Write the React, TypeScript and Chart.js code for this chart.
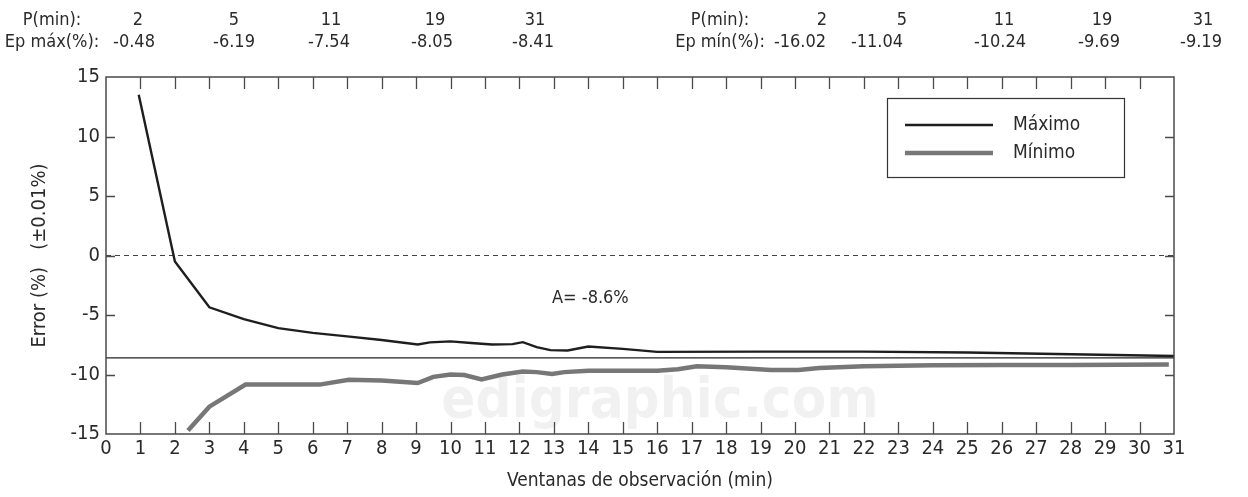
import React, { useEffect, useRef } from 'react';
import { Chart, registerables } from 'chart.js';

Chart.register(...registerables);

const FONT = '"DejaVu Sans Condensed", "Liberation Sans", sans-serif';
const TEXT = '#2a2a2a';

// ---- data ----
const maxX = [0.95, 2.0, 3.0, 4.0, 5.0, 6.0, 7.0, 8.0, 9.05, 9.4, 10.0, 10.6, 11.2, 11.8, 12.1, 12.5, 12.9, 13.4, 14.0, 15.0, 16.0, 19.0, 22.0, 25.0, 28.0, 31.0];
const maxY = [13.5, -0.5, -4.35, -5.35, -6.1, -6.5, -6.8, -7.1, -7.48, -7.3, -7.22, -7.35, -7.48, -7.45, -7.28, -7.7, -7.95, -7.98, -7.65, -7.85, -8.1, -8.08, -8.08, -8.15, -8.3, -8.45];

const minX = [2.38, 3.0, 4.05, 5.0, 6.2, 7.05, 8.0, 9.05, 9.5, 10.0, 10.4, 10.9, 11.5, 12.1, 12.5, 12.95, 13.3, 14.0, 15.0, 16.0, 16.6, 17.15, 18.0, 19.3, 20.1, 20.7, 22.0, 24.0, 26.0, 28.0, 30.85];
const minY = [-14.7, -12.7, -10.85, -10.85, -10.85, -10.45, -10.5, -10.72, -10.2, -10.0, -10.05, -10.42, -10.0, -9.75, -9.8, -9.95, -9.8, -9.68, -9.68, -9.68, -9.55, -9.3, -9.4, -9.62, -9.62, -9.45, -9.3, -9.22, -9.2, -9.2, -9.15];

const aValue = -8.6;
const zeroValue = 0;
const xRange = [0, 31];
const yRange = [-15, 15];

const seriesNames = ['Máximo', 'Mínimo'];
const headerP = ['2', '5', '11', '19', '31'];
const headerEpMax = ['-0.48', '-6.19', '-7.54', '-8.05', '-8.41'];
const headerEpMin = ['-16.02', '-11.04', '-10.24', '-9.69', '-9.19'];
const annotationText = 'A= -8.6%';
const xTitle = 'Ventanas de observación (min)';
const yTitle = 'Error (%)   (±0.01%)';
const watermark = 'edigraphic.com';

// ---- layout constants (text placement) ----
const ROW1_Y = 20;
const ROW2_Y = 42;
const leftLabelX = 52;
const leftRow1X = [138, 234, 331, 435, 535];
const leftRow2X = [134, 234, 329, 432, 533];
const rightLabelX = 720;
const rightRow1X = [822, 902, 1004, 1102, 1203];
const rightRow2X = [800, 877, 1000, 1099, 1201];

const toPts = (xs: number[], ys: number[]) => xs.map((x, i) => ({ x, y: ys[i] }));

const framePlugin = {
  id: 'framePlugin',
  beforeDatasetsDraw(chart: any) {
    const { ctx } = chart;
    ctx.save();
    ctx.font = `bold 56px ${FONT}`;
    ctx.fillStyle = 'rgba(0,0,0,0.055)';
    ctx.textAlign = 'center';
    ctx.textBaseline = 'middle';
    ctx.fillText(watermark, 660, 402);
    ctx.restore();
  },
  afterDatasetsDraw(chart: any) {
    const { ctx, chartArea, scales } = chart;
    const { left, right, top, bottom } = chartArea;
    const x = scales.x;
    const y = scales.y;
    ctx.save();
    ctx.strokeStyle = '#4a4a4a';
    ctx.lineWidth = 1.5;
    ctx.strokeRect(left, top, right - left, bottom - top);
    ctx.beginPath();
    x.ticks.forEach((t: any) => {
      if (t.value <= x.min || t.value >= x.max) return;
      const px = Math.round(x.getPixelForValue(t.value)) + 0.5;
      ctx.moveTo(px, top);
      ctx.lineTo(px, top + 12);
      ctx.moveTo(px, bottom);
      ctx.lineTo(px, bottom - 12);
    });
    y.ticks.forEach((t: any) => {
      if (t.value <= y.min || t.value >= y.max) return;
      const py = Math.round(y.getPixelForValue(t.value)) + 0.5;
      ctx.moveTo(left, py);
      ctx.lineTo(left + 9, py);
      ctx.moveTo(right, py);
      ctx.lineTo(right - 9, py);
    });
    ctx.lineWidth = 1.3;
    ctx.stroke();

    // annotation text
    ctx.fillStyle = TEXT;
    ctx.font = `18px ${FONT}`;
    ctx.textAlign = 'left';
    ctx.textBaseline = 'middle';
    ctx.fillText(annotationText, 552, 298);

    // legend box
    const ds = chart.data.datasets;
    const bx = 887, by = 98, bw = 237, bh = 79;
    ctx.fillStyle = '#fff';
    ctx.fillRect(bx, by, bw, bh);
    ctx.strokeStyle = '#333';
    ctx.lineWidth = 1.2;
    ctx.strokeRect(bx + 0.5, by + 0.5, bw, bh);
    [0, 1].forEach((i) => {
      const ly = i === 0 ? 125 : 153;
      ctx.beginPath();
      ctx.strokeStyle = ds[i].borderColor;
      ctx.lineWidth = ds[i].borderWidth;
      ctx.moveTo(905, ly);
      ctx.lineTo(993, ly);
      ctx.stroke();
      ctx.fillStyle = TEXT;
      ctx.font = `19px ${FONT}`;
      ctx.textAlign = 'left';
      ctx.fillText(ds[i].label, 1013, ly);
    });

    // header
    ctx.font = `18px ${FONT}`;
    ctx.fillStyle = TEXT;
    ctx.textAlign = 'center';
    ctx.fillText('P(min):', leftLabelX, ROW1_Y);
    ctx.fillText('Ep máx(%):', leftLabelX, ROW2_Y);
    headerP.forEach((s, i) => ctx.fillText(s, leftRow1X[i], ROW1_Y));
    headerEpMax.forEach((s, i) => ctx.fillText(s, leftRow2X[i], ROW2_Y));
    ctx.fillText('P(min):', rightLabelX, ROW1_Y);
    ctx.fillText('Ep mín(%):', rightLabelX, ROW2_Y);
    headerP.forEach((s, i) => ctx.fillText(s, rightRow1X[i], ROW1_Y));
    headerEpMin.forEach((s, i) => ctx.fillText(s, rightRow2X[i], ROW2_Y));
    ctx.restore();
  },
};

export default function App() {
  const ref = useRef<HTMLCanvasElement | null>(null);
  useEffect(() => {
    if (!ref.current) return;
    const chart = new Chart(ref.current, {
      type: 'line',
      data: {
        datasets: [
          {
            label: seriesNames[0],
            data: toPts(maxX, maxY),
            borderColor: '#1e1e1e',
            borderWidth: 2.4,
            pointRadius: 0,
            tension: 0,
            fill: false,
          },
          {
            label: seriesNames[1],
            data: toPts(minX, minY),
            borderColor: '#777777',
            borderWidth: 4.5,
            pointRadius: 0,
            tension: 0,
            fill: false,
          },
          {
            label: 'A',
            data: toPts(xRange, [aValue, aValue]),
            borderColor: '#222',
            borderWidth: 1.2,
            pointRadius: 0,
            fill: false,
          },
          {
            label: 'cero',
            data: toPts(xRange, [zeroValue, zeroValue]),
            borderColor: '#444',
            borderWidth: 1.1,
            borderDash: [5, 4],
            pointRadius: 0,
            fill: false,
          },
        ],
      },
      options: {
        animation: false,
        responsive: false,
        maintainAspectRatio: false,
        layout: { padding: { left: 0, right: 74, top: 77, bottom: 0 } },
        plugins: { legend: { display: false }, tooltip: { enabled: false } },
        scales: {
          x: {
            type: 'linear',
            min: xRange[0],
            max: xRange[1],
            afterFit: (s: any) => { s.height = 63; },
            ticks: { stepSize: 1, color: TEXT, font: { family: FONT, size: 20 }, padding: 3, maxRotation: 0, autoSkip: false },
            grid: { display: false, drawTicks: false },
            border: { display: false },
            title: { display: true, text: xTitle, color: TEXT, font: { family: FONT, size: 19 }, padding: { top: 0, bottom: 5 } },
          },
          y: {
            type: 'linear',
            min: yRange[0],
            max: yRange[1],
            afterFit: (s: any) => { s.width = 106; },
            ticks: { stepSize: 5, color: TEXT, font: { family: FONT, size: 20 }, padding: 6 },
            grid: { display: false, drawTicks: false },
            border: { display: false },
            title: { display: true, text: yTitle, color: TEXT, font: { family: FONT, size: 20 }, padding: { top: 28, bottom: 0 } },
          },
        },
      },
      plugins: [framePlugin],
    });
    return () => chart.destroy();
  }, []);
  return (
    <div style={{ position: 'absolute', left: 0, top: 0, width: 1248, height: 497, background: '#fff' }}>
      <canvas ref={ref} width={1248} height={497} />
    </div>
  );
}
